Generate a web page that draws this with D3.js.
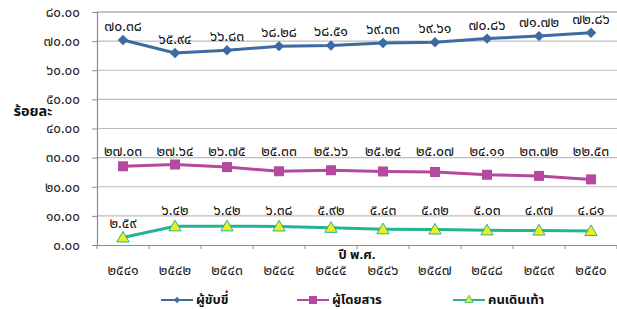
<!DOCTYPE html>
<html><head><meta charset="utf-8">
<script src="https://cdnjs.cloudflare.com/ajax/libs/d3/7.8.5/d3.min.js"></script>
<style>
body{margin:0;background:#fff;}
svg{display:block;}
text{font-family:"Noto Sans Thai","Tahoma","DejaVu Sans","Noto Sans",sans-serif;}
</style></head>
<body><svg id="c" width="617" height="309"></svg>
<script>
const years = ["๒๕๔๑","๒๕๔๒","๒๕๔๓","๒๕๔๔","๒๕๔๕","๒๕๔๖","๒๕๔๗","๒๕๔๘","๒๕๔๙","๒๕๕๐"];
const drivers = [70.38,65.94,66.83,68.28,68.51,69.33,69.61,70.86,71.72,72.86];
const passengers = [27.03,27.64,26.75,25.33,25.66,25.24,25.07,24.11,23.72,22.53];
const pedestrians = [2.59,6.42,6.42,6.38,5.92,5.43,5.32,5.03,4.97,4.81];
const seriesNames = ["ผู้ขับขี่","ผู้โดยสาร","คนเดินเท้า"];
const yTicks = [0,10,20,30,40,50,60,70,80];
const yTitle = "ร้อยละ";
const xTitle = "ปี พ.ศ.";

const thaiDigits = "๐๑๒๓๔๕๖๗๘๙";
const toThai = s => String(s).replace(/[0-9]/g, d => thaiDigits[+d]);
const fmt = v => toThai(v.toFixed(2));

const svg = d3.select("#c");
const L = 97, R = 617, T = 12, B = 245;
const x = d3.scaleBand().domain(years).range([L, R]);
const y = d3.scaleLinear().domain([0, 80]).range([B, T]);
const cx = d => x(d) + x.bandwidth()/2;

// gridlines
svg.append("g").selectAll("line").data(yTicks.filter(t => t > 0)).join("line")
  .attr("x1", L).attr("x2", R).attr("y1", d => y(d)).attr("y2", d => y(d))
  .attr("stroke", d => d === 80 ? "#8c8c8c" : "#bdbdbd").attr("stroke-width", 1.2);

// y axis
const ya = svg.append("g").attr("transform", `translate(${L},0)`)
  .call(d3.axisLeft(y).tickValues(yTicks).tickSize(5).tickPadding(12).tickFormat(fmt));
ya.select(".domain").attr("stroke", "#8c8c8c").attr("stroke-width", 1.2);
ya.selectAll(".tick line").attr("stroke", "#8c8c8c");
ya.selectAll(".tick text").attr("font-size", 13.5).attr("fill", "#222");

// x axis
const xa = svg.append("g").attr("transform", `translate(0,${B})`)
  .call(d3.axisBottom(x).tickSize(0).tickPadding(20));
xa.select(".domain").attr("stroke", "#8c8c8c").attr("stroke-width", 1.2);
xa.selectAll(".tick text").attr("font-size", 14).attr("fill", "#222");
// boundary ticks
svg.append("g").selectAll("line").data(years.concat(["end"])).join("line")
  .attr("x1", (d,i) => L + i*x.bandwidth()).attr("x2", (d,i) => L + i*x.bandwidth())
  .attr("y1", B).attr("y2", B + 4).attr("stroke", "#8c8c8c");

svg.append("text").attr("x", 357).attr("y", 259).attr("text-anchor", "middle")
  .attr("font-size", 13).attr("font-weight", "bold").attr("fill", "#111").text(xTitle);
svg.append("text").attr("x", 33).attr("y", 116).attr("text-anchor", "middle")
  .attr("font-size", 14.5).attr("font-weight", "bold").attr("fill", "#111").text(yTitle);

const series = [
  {name: seriesNames[0], vals: drivers, color: "#3d6aa0", marker: "diamond"},
  {name: seriesNames[1], vals: passengers, color: "#b5489f", marker: "square"},
  {name: seriesNames[2], vals: pedestrians, color: "#22b593", marker: "triangle"}
];

function drawMarker(g, type, color, px, py) {
  if (type === "diamond") {
    g.append("path").attr("d", d3.symbol(d3.symbolDiamond2, 70)()).attr("transform", `translate(${px},${py})`)
      .attr("fill", color);
  } else if (type === "square") {
    g.append("rect").attr("x", px-5).attr("y", py-5).attr("width", 10).attr("height", 10).attr("fill", color);
  } else {
    g.append("path").attr("d", d3.symbol(d3.symbolTriangle, 65)()).attr("transform", `translate(${px},${py+1})`)
      .attr("fill", "#f2ee1c").attr("stroke", color).attr("stroke-width", 1);
  }
}

const line = d3.line().x((d,i) => cx(years[i])).y(d => y(d));
series.forEach((s, si) => {
  svg.append("path").datum(s.vals).attr("d", line).attr("fill", "none")
    .attr("stroke", s.color).attr("stroke-width", 3);
  const g = svg.append("g");
  s.vals.forEach((v, i) => drawMarker(g, s.marker, s.color, cx(years[i]), y(v)));
  const mx = d3.max(s.vals);
  s.vals.forEach((v, i) => {
    let ly;
    if (si === 0) ly = y(v) - 14;
    else if (si === 1) ly = y(mx) - 13;
    else ly = (y(v) - y(mx) > 8) ? y(v) - 14 : y(mx) - 16;
    svg.append("text").attr("x", cx(years[i])).attr("y", ly).attr("dy", "0.35em")
      .attr("text-anchor", "middle").attr("font-size", 14).attr("fill", "#111").text(fmt(v));
  });
});

// legend
const legX = [161, 297, 453];
series.forEach((s, i) => {
  const g = svg.append("g");
  const ly = 300;
  g.append("line").attr("x1", legX[i]).attr("x2", legX[i] + 32).attr("y1", ly).attr("y2", ly)
    .attr("stroke", s.color).attr("stroke-width", 2);
  const m = g.append("g");
  if (s.marker === "diamond") m.append("path").attr("d", d3.symbol(d3.symbolDiamond2, 25)()).attr("transform", `translate(${legX[i]+16},${ly})`).attr("fill", s.color);
  else if (s.marker === "square") m.append("rect").attr("x", legX[i]+12).attr("y", ly-4).attr("width", 8).attr("height", 8).attr("fill", s.color);
  else m.append("path").attr("d", d3.symbol(d3.symbolTriangle, 30)()).attr("transform", `translate(${legX[i]+16},${ly})`).attr("fill", "#f2ee1c").attr("stroke", s.color).attr("stroke-width", 0.8);
  g.append("text").attr("x", legX[i] + 35).attr("y", ly).attr("dy", "0.32em")
    .attr("font-size", 13).attr("font-weight", "bold").attr("fill", "#111").text(s.name);
});
</script></body></html>
